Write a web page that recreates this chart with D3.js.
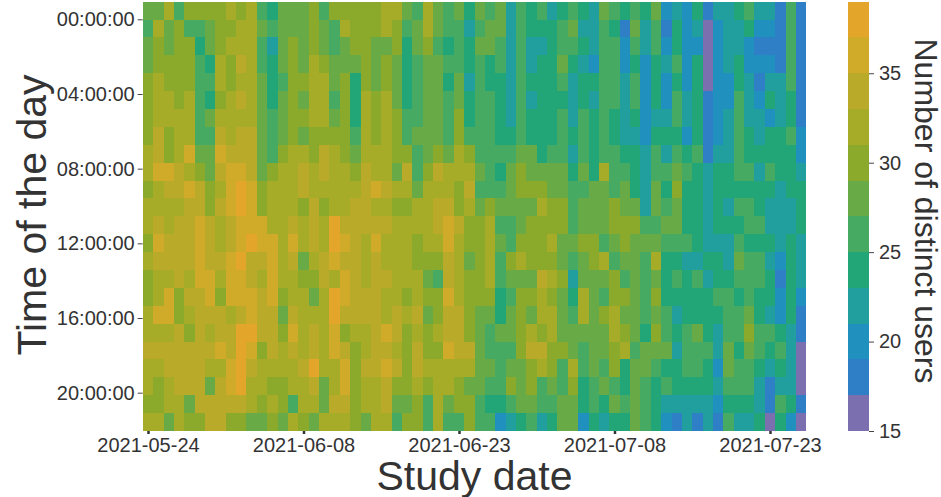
<!DOCTYPE html>
<html><head><meta charset="utf-8">
<script src="https://cdn.jsdelivr.net/npm/d3@7/dist/d3.min.js"></script>
<style>html,body{margin:0;padding:0;background:#fff}svg{display:block}text{font-family:"Liberation Sans",Arial,sans-serif;fill:#333}</style>
</head><body><div id="chart"></div>
<script>
const h00=[28,28,32,26,30,30,30,30,32,30,32,26,24,28,28,28,30,26,30,30,30,30,30,32,32,28,26,32,28,26,28,24,28,26,28,22,26,24,26,22,24,26,24,22,28,26,24,26,24,28,20,22,20,24,18,22,22,24,26,22,22,18,26,18];
const h01=[26,32,28,30,26,26,28,30,30,32,32,28,26,28,28,28,30,28,26,32,30,30,30,32,30,26,28,32,28,26,26,22,26,28,28,22,26,24,24,24,26,28,22,22,26,24,18,28,22,26,18,24,20,22,16,20,22,22,24,20,20,18,26,18];
const h02=[28,30,28,30,30,24,28,30,32,32,32,26,22,28,30,28,30,28,26,28,30,30,28,28,30,24,28,30,26,24,26,24,28,28,26,22,26,22,22,24,26,26,24,22,26,26,20,26,22,26,20,24,20,20,16,20,22,22,20,18,18,18,26,18];
const h03=[28,30,30,30,30,26,24,32,30,34,32,26,24,28,30,28,32,30,28,28,28,30,28,30,28,24,26,28,28,26,26,24,26,24,26,22,26,22,24,24,28,24,22,20,26,26,20,24,20,24,22,26,20,24,16,20,22,24,20,20,20,18,26,18];
const h04=[30,32,30,30,30,26,26,32,30,32,32,28,24,26,30,30,32,32,28,30,24,30,28,30,28,24,26,28,28,24,28,22,26,24,24,22,26,24,24,24,26,22,24,24,26,26,22,26,20,24,20,24,20,24,16,20,20,24,22,18,22,22,26,18];
const h05=[30,32,32,30,32,26,24,30,32,34,32,28,24,28,30,28,32,32,26,30,24,32,30,32,28,24,26,28,28,26,28,24,26,26,24,22,26,22,24,24,24,22,24,22,26,26,22,26,20,24,20,26,22,24,18,20,20,26,22,20,24,22,24,18];
const h06=[30,32,32,32,32,26,28,32,32,32,32,28,26,28,30,30,32,32,28,30,24,32,30,32,30,26,26,28,28,26,30,24,26,26,24,22,26,24,24,24,26,22,26,24,26,24,22,24,20,22,22,26,22,24,18,20,22,26,22,22,20,22,24,18];
const h07=[30,34,30,32,32,26,26,34,32,34,34,28,26,28,30,28,30,30,30,30,26,32,30,32,30,26,28,28,28,26,30,26,26,26,24,24,26,24,24,24,26,24,26,24,26,24,22,22,20,24,24,24,20,24,18,20,22,26,24,22,24,24,26,20];
const h08=[32,34,30,32,36,28,28,36,34,34,34,28,26,30,32,32,30,34,32,30,28,32,32,32,30,30,26,28,30,28,32,30,26,26,26,26,28,28,24,26,26,22,26,24,26,26,24,24,22,26,22,26,24,26,18,22,22,26,24,24,24,24,24,20];
const h09=[32,36,36,34,32,30,28,34,36,36,34,28,30,32,32,34,32,34,32,32,30,34,32,32,28,34,26,30,34,32,32,32,28,26,24,28,30,28,28,28,28,24,28,24,32,26,26,24,22,26,26,28,26,24,22,24,24,26,26,22,26,24,24,22];
const h10=[30,32,34,34,36,34,30,32,36,38,36,30,32,32,32,34,32,32,32,32,32,34,36,34,32,32,28,32,32,32,30,34,26,26,26,28,30,30,30,28,28,26,26,28,28,26,28,24,22,28,24,30,24,24,22,24,24,24,24,24,24,22,24,24];
const h11=[32,32,32,32,34,34,30,34,36,38,36,30,32,32,32,30,34,30,32,32,34,34,32,32,30,30,32,32,34,34,30,32,28,30,28,28,28,28,32,30,30,26,28,28,28,30,28,28,22,28,26,28,24,24,22,24,22,26,26,24,22,22,22,24];
const h12=[32,34,32,34,34,36,34,32,34,36,36,36,32,32,34,32,34,32,38,34,34,34,34,34,32,32,32,32,34,36,34,30,30,32,26,26,28,30,30,30,30,26,28,28,28,30,30,30,26,26,28,28,24,24,22,24,24,24,26,26,22,22,22,24];
const h13=[30,36,34,34,34,36,34,32,34,36,38,36,36,32,36,32,34,32,38,36,34,32,36,32,32,32,30,32,32,36,32,30,30,32,28,26,30,30,30,32,28,28,30,30,26,28,30,28,28,28,26,26,26,24,22,22,22,26,24,24,24,22,24,22];
const h14=[32,34,34,34,34,36,34,34,36,38,34,34,36,32,34,28,32,34,36,34,34,32,34,32,32,32,30,30,30,34,32,28,30,32,26,30,32,30,30,30,28,26,28,30,32,26,28,28,26,32,24,24,22,22,24,24,22,28,26,26,22,20,24,22];
const h15=[30,32,32,34,32,36,36,32,36,36,34,32,36,32,32,30,30,34,32,36,34,32,34,34,32,32,32,28,26,34,32,30,30,32,26,28,28,28,34,32,30,22,28,28,28,30,26,28,26,28,24,26,24,26,22,24,24,26,26,26,24,18,24,22];
const h16=[30,32,36,30,34,34,36,30,36,36,36,34,36,30,32,32,28,32,38,36,34,34,34,32,32,30,32,30,30,36,32,30,30,30,24,26,30,30,32,30,28,24,32,28,26,30,30,28,26,30,24,24,24,24,24,26,26,24,26,24,24,20,24,20];
const h17=[32,36,36,30,32,34,34,34,32,34,36,34,34,28,34,32,32,32,38,34,34,34,34,32,34,32,34,28,30,34,34,30,28,28,24,28,30,28,32,32,28,26,32,28,30,32,28,28,26,28,26,22,24,24,24,24,26,26,28,24,22,20,24,18];
const h18=[32,32,32,34,30,34,32,34,34,38,38,34,34,30,36,32,34,32,36,30,32,32,34,36,34,30,32,30,32,34,34,30,28,26,28,28,30,32,30,32,28,28,28,28,28,32,30,28,24,30,26,24,26,28,24,22,26,26,30,26,26,24,22,18];
const h19=[34,34,34,34,34,34,34,36,34,38,36,30,34,32,34,32,34,32,36,34,30,32,34,34,32,30,34,30,30,36,34,34,28,26,26,26,30,34,34,30,30,28,26,28,28,30,32,26,28,28,28,22,26,26,26,22,28,24,28,26,24,26,22,16];
const h20=[32,32,34,34,34,34,32,32,36,38,34,32,32,32,32,34,38,32,32,36,30,34,34,36,34,30,34,32,32,32,32,32,28,28,26,28,28,30,32,30,26,32,26,28,26,30,24,28,28,26,24,24,26,26,24,20,28,26,26,24,22,24,22,16];
const h21=[32,30,32,34,34,34,28,34,36,38,32,32,30,30,32,32,34,28,32,36,30,32,32,34,30,30,32,30,32,32,30,28,28,26,26,30,28,30,26,28,26,30,24,26,28,26,24,28,26,24,26,24,24,24,24,22,26,26,26,22,18,22,22,16];
const h22=[30,30,32,32,28,34,34,34,34,34,32,30,32,30,26,32,32,28,34,34,30,32,32,34,28,28,30,26,32,28,30,30,26,24,24,26,28,28,26,26,28,28,24,26,24,28,26,28,26,24,22,22,22,22,22,20,24,24,24,22,18,26,24,18];
const h23=[32,32,28,32,30,30,34,34,30,30,28,28,30,28,32,30,28,32,32,32,30,28,32,32,26,30,30,26,32,26,26,30,26,26,20,22,24,26,22,24,28,28,20,24,22,24,24,28,26,24,20,18,22,18,22,18,26,22,22,24,16,24,20,16];
const hourRows=[h00,h01,h02,h03,h04,h05,h06,h07,h08,h09,h10,h11,h12,h13,h14,h15,h16,h17,h18,h19,h20,h21,h22,h23];

const firstDate="2021-05-24";
const dateTicks=["2021-05-24","2021-06-08","2021-06-23","2021-07-08","2021-07-23"];
const hourTicks=[0,4,8,12,16,20];
const legendTicks=[15,20,25,30,35];
const bandEdges=[15,17,19,21,23,25,27,29,31,33,35,37,39];
const bandColors=["#7b6fb0","#2e7fc6","#2090bf","#219f9f","#22a678","#47aa62","#68aa45","#8ba92b","#a6ab28","#b9aa2a","#cfab29","#e4a62a"];
const xTitle="Study date", yTitle="Time of the day", cTitle="Number of distinct users";

const W=941,H=497;
const svg=d3.select("#chart").append("svg").attr("width",W).attr("height",H);
const plotTop=1.7,plotBottom=431,cx0=847.5,cx1=869;
const parse=d3.utcParse("%Y-%m-%d"), DAY=864e5;
const x=d3.scaleUtc().domain([parse(dateTicks[0]),parse(dateTicks[4])]).range([148,770]);
const yRow=d3.scaleBand().domain(d3.range(hourRows.length)).range([plotTop,plotBottom]);
const yHour=d3.scaleLinear().domain([0,20]).range([19.3,392.7]);
const color=d3.scaleThreshold().domain(bandEdges.slice(1,-1)).range(bandColors);
const yC=d3.scaleLinear().domain([15,39]).range([plotBottom,plotTop]);
const d0=+parse(firstDate);

const cells=hourRows.flatMap((row,r)=>row.map((v,c)=>({r,c,v})));
svg.append("g").attr("shape-rendering","crispEdges").selectAll("rect").data(cells).join("rect")
  .attr("x",d=>x(new Date(d0+(d.c-.5)*DAY)))
  .attr("width",d=>x(new Date(d0+(d.c+.5)*DAY))-x(new Date(d0+(d.c-.5)*DAY)))
  .attr("y",d=>yRow(d.r)).attr("height",yRow.bandwidth())
  .attr("fill",d=>color(d.v));

const gx=svg.append("g").attr("transform",`translate(0,${plotBottom})`)
  .call(d3.axisBottom(x).tickValues(dateTicks.map(parse)).tickFormat(d3.utcFormat("%Y-%m-%d")).tickSize(3).tickPadding(4));
gx.select(".domain").remove();
gx.selectAll(".tick line").attr("stroke","#333").attr("stroke-width",2.5);
gx.selectAll("text").attr("font-size",20).attr("fill","#333").attr("font-family",'"Liberation Sans",Arial,sans-serif');

const gy=svg.append("g").attr("transform","translate(142.7,0)")
  .call(d3.axisLeft(yHour).tickValues(hourTicks).tickFormat(h=>String(h).padStart(2,"0")+":00:00").tickSize(5).tickPadding(3));
gy.select(".domain").remove();
gy.selectAll(".tick line").attr("stroke","#444");
gy.selectAll("text").attr("font-size",20).attr("fill","#333").attr("font-family",'"Liberation Sans",Arial,sans-serif');

svg.append("g").attr("shape-rendering","crispEdges").selectAll("rect").data(bandColors).join("rect")
  .attr("x",cx0).attr("width",cx1-cx0)
  .attr("y",(d,i)=>yC(bandEdges[i+1])).attr("height",(d,i)=>yC(bandEdges[i])-yC(bandEdges[i+1]))
  .attr("fill",d=>d);
const gc=svg.append("g").attr("transform",`translate(${cx1},0)`)
  .call(d3.axisRight(yC).tickValues(legendTicks).tickSize(5).tickPadding(5));
gc.select(".domain").remove();
gc.selectAll(".tick line").attr("stroke","#444");
gc.selectAll("text").attr("font-size",20).attr("fill","#333").attr("font-family",'"Liberation Sans",Arial,sans-serif');

svg.append("text").attr("x",474.5).attr("y",490).attr("text-anchor","middle").attr("font-size",41).text(xTitle);
svg.append("text").attr("transform","translate(46,215) rotate(-90)").attr("text-anchor","middle").attr("font-size",41).text(yTitle);
svg.append("text").attr("transform","translate(915,211) rotate(90)").attr("text-anchor","middle").attr("font-size",32).text(cTitle);
</script></body></html>
